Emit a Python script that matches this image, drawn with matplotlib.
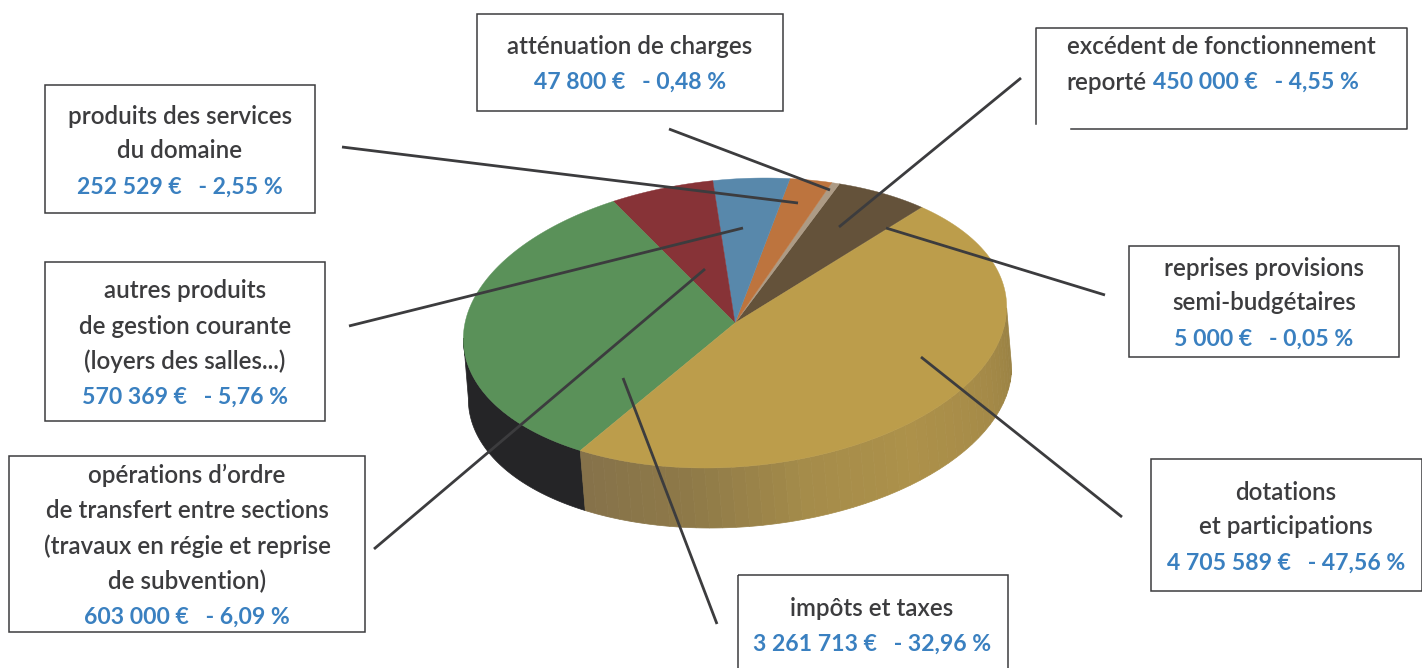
import numpy as np
import matplotlib
matplotlib.use("Agg")
import matplotlib.pyplot as plt
from matplotlib.colors import LinearSegmentedColormap
from matplotlib.patches import Polygon, Rectangle

plt.rcParams["font.family"] = ["Lato", "DejaVu Sans"]

# values, counter clockwise from the top of the big gold slice
names = ["reprises provisions", "autres", "atténuation", "produits", "excédent",
         "opérations", "impôts", "dotations"]
values = [5000, 570369, 47800, 252529, 450000, 603000, 3261713, 4705589]
colors = ["#8f7c48", "#64523a", "#ad9b85", "#bd743e", "#5888ab", "#873337", "#5a9159", "#bc9d4b"]

DARK = "#3c3c3e"
BLUE = "#3a80c0"

# ellipse of the top face and of the bottom edge, in pixels, slightly skewed
cx, cy, rx, ry, skew = 735, 323, 270, 145, 30
bx, by = 740, 383
start = 52.8


def top_xy(t):
    return cx + rx * np.cos(t) + skew * np.sin(t), cy - ry * np.sin(t)


def bottom_xy(t):
    return bx + rx * np.cos(t) + skew * np.sin(t), by - ry * np.sin(t)


fig = plt.figure(figsize=(14.22, 6.68), dpi=100)
ax = fig.add_axes([0, 0, 1, 1])
ax.set_xlim(0, 1422)
ax.set_ylim(668, 0)
ax.axis("off")

total = sum(values)
edges = start + np.cumsum([0] + values) / total * 360

# side wall, black below the green slice and shaded gold below the big one
wall_cmap = LinearSegmentedColormap.from_list(
    "wall", ["#86724a", "#8f7a48", "#a58c4a", "#ad914a", "#a68b48", "#9a8244"])
green_end = edges[7]
t = np.radians(np.linspace(186, green_end, 60))
tx, ty = top_xy(t)
ux, uy = bottom_xy(t)
ax.add_patch(Polygon(np.c_[np.r_[tx, ux[::-1]], np.r_[ty, uy[::-1]]], fc="#252527", ec="#252527", lw=0.5))

steps = np.linspace(green_end, 366, 45)
for i in range(len(steps) - 1):
    t = np.radians(np.linspace(steps[i], steps[i + 1], 5))
    tx, ty = top_xy(t)
    ux, uy = bottom_xy(t)
    c = wall_cmap(i / (len(steps) - 2))
    ax.add_patch(Polygon(np.c_[np.r_[tx, ux[::-1]], np.r_[ty, uy[::-1]]], fc=c, ec=c, lw=0.5))

# top face
for i, c in enumerate(colors):
    t = np.radians(np.linspace(edges[i], edges[i + 1], 120))
    tx, ty = top_xy(t)
    ax.add_patch(Polygon(np.c_[np.r_[cx, tx], np.r_[cy, ty]], fc=c, ec=c, lw=0.3, zorder=3))

# leader lines
leaders = [
    ((669, 129), (830, 190)),
    ((1021, 78), (839, 227)),
    ((342, 147), (798, 203)),
    ((349, 326), (743, 228)),
    ((374, 549), (705, 269)),
    ((1105, 295), (886, 228)),
    ((1122, 517), (921, 357)),
    ((717, 624), (623, 378)),
]
for p, q in leaders:
    ax.plot([p[0], q[0]], [p[1], q[1]], color=DARK, lw=2.0, zorder=4, solid_capstyle="butt")

# label boxes
boxes = [
    (477, 14, 306, 97),
    (45, 85, 270, 128),
    (45, 262, 280, 159),
    (9, 456, 356, 176),
    (1129, 246, 270, 111),
    (1151, 459, 271, 132),
    (738, 575, 270, 110),
]
for x, y, w, h in boxes:
    ax.add_patch(Rectangle((x, y), w, h, fc="none", ec=DARK, lw=1.1, zorder=5))

# the excedent box has a gap in its bottom left corner
ax.plot([1036, 1036, 1407, 1407, 1071], [124, 28, 28, 129, 129], color=DARK, lw=1.1, zorder=5)


def label(x, y, s, color=DARK, ha="center"):
    if color == DARK:
        ax.text(x, y + 1, s, color=color, fontsize=17.4, ha=ha, va="center", fontweight="semibold", zorder=6)
    else:
        ax.text(x, y + 1, s, color=color, fontsize=16.6, ha=ha, va="center", fontweight="bold", zorder=6)


label(630, 46, "atténuation de charges")
label(630, 81, "47 800 €   - 0,48 %", BLUE)

label(180, 115, "produits des services")
label(180, 150, "du domaine")
label(180, 186, "252 529 €   - 2,55 %", BLUE)

label(185, 290, "autres produits")
label(185, 325, "de gestion courante")
label(185, 360, "(loyers des salles...)")
label(185, 396, "570 369 €   - 5,76 %", BLUE)

label(187, 474, "opérations d’ordre")
label(187, 509, "de transfert entre sections")
label(187, 545, "(travaux en régie et reprise")
label(187, 580, "de subvention)")
label(187, 616, "603 000 €   - 6,09 %", BLUE)

label(1221, 46, "excédent de fonctionnement")
label(1147, 81, "reporté", ha="right")
label(1153, 81, "450 000 €   - 4,55 %", BLUE, ha="left")

label(1264, 267, "reprises provisions")
label(1264, 302, "semi-budgétaires")
label(1264, 338, "5 000 €   - 0,05 %", BLUE)

label(1286, 491, "dotations")
label(1286, 526, "et participations")
label(1286, 562, "4 705 589 €   - 47,56 %", BLUE)

label(872, 608, "impôts et taxes")
label(872, 643, "3 261 713 €   - 32,96 %", BLUE)

fig.savefig("out.png", dpi=100, facecolor="white")
